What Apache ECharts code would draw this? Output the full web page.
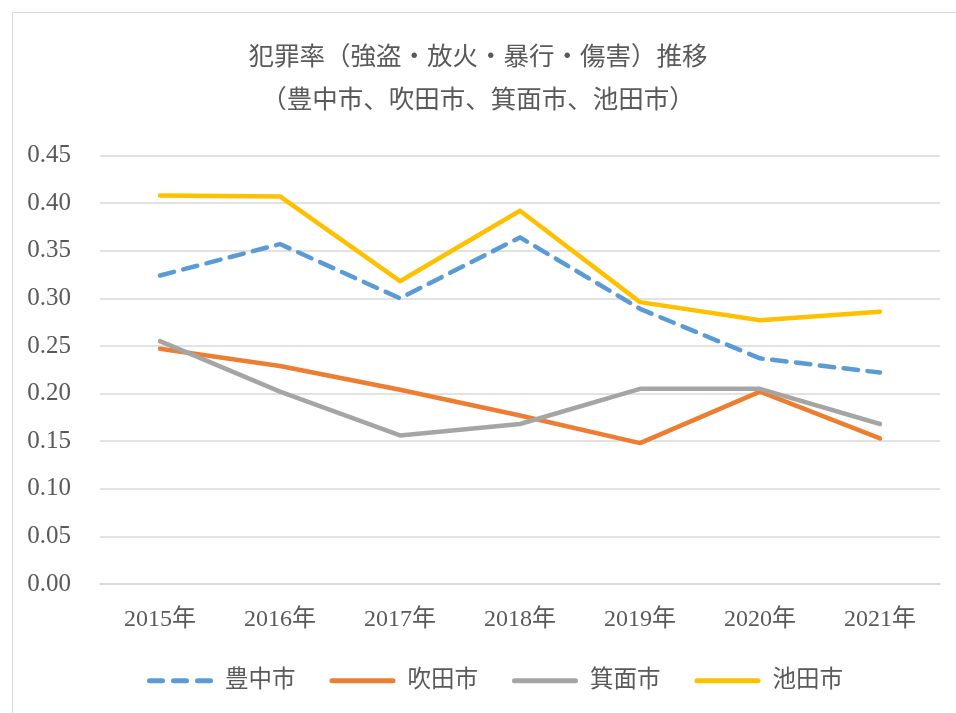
<!DOCTYPE html>
<html><head><meta charset="utf-8">
<script src="https://cdn.jsdelivr.net/npm/echarts@6/dist/echarts.min.js"></script>
<style>html,body{margin:0;padding:0;background:#fff}#c{width:956px;height:713px}</style>
</head><body><div id="c"></div>
<script>
const categories = ['2015年','2016年','2017年','2018年','2019年','2020年','2021年'];
const toyonaka = [0.324, 0.357, 0.300, 0.364, 0.289, 0.237, 0.222];
const suita    = [0.247, 0.229, 0.204, 0.177, 0.148, 0.202, 0.153];
const minoh    = [0.255, 0.202, 0.156, 0.168, 0.205, 0.205, 0.168];
const ikeda    = [0.408, 0.407, 0.318, 0.392, 0.296, 0.277, 0.286];
const seriesNames = ['豊中市','吹田市','箕面市','池田市'];
const titleLines = ['犯罪率（強盗・放火・暴行・傷害）推移','（豊中市、吹田市、箕面市、池田市）'];

const FONT = "'Liberation Serif','Noto Sans CJK JP',serif";
const TXT = '#595959';
const chart = echarts.init(document.getElementById('c'));
const mk = (name, data, color, dashed) => ({
  name, type: 'line', data, symbol: 'none',
  lineStyle: { color, width: 4.5, type: dashed ? [14.5, 9.5] : 'solid', cap: 'round', join: 'round' },
  itemStyle: { color }
});
const dashIcon = 'path://M2.5,0h13a2.5,2.5 0 0 1 0,5h-13a2.5,2.5 0 0 1 0,-5z M26.5,0h13a2.5,2.5 0 0 1 0,5h-13a2.5,2.5 0 0 1 0,-5z M50.5,0h13a2.5,2.5 0 0 1 0,5h-13a2.5,2.5 0 0 1 0,-5z';
const solidIcon = 'path://M2.5,0h61a2.5,2.5 0 0 1 0,5h-61a2.5,2.5 0 0 1 0,-5z';
chart.setOption({
  backgroundColor: '#fff',
  animation: false,
  graphic: [{ type: 'rect', shape: { x: 12.5, y: 12.5, width: 950, height: 710 },
    style: { fill: 'none', stroke: '#d9d9d9', lineWidth: 1 } }],
  title: [
    { text: titleLines[0], left: 'center', top: 41, textStyle: { fontFamily: FONT, fontSize: 25.5, fontWeight: 'normal', color: TXT } },
    { text: titleLines[1], left: 'center', top: 84, textStyle: { fontFamily: FONT, fontSize: 25.5, fontWeight: 'normal', color: TXT } }
  ],
  legend: {
    data: [
      { name: seriesNames[0], icon: dashIcon },
      { name: seriesNames[1], icon: solidIcon },
      { name: seriesNames[2], icon: solidIcon },
      { name: seriesNames[3], icon: solidIcon }
    ],
    top: 669, left: 147, padding: 0, itemWidth: 66, itemHeight: 5, itemGap: 34,
    textStyle: { fontFamily: FONT, fontSize: 23.5, color: TXT, padding: [0, 0, 0, 7] }
  },
  grid: { left: 100, right: 16, top: 155.5, bottom: 129, containLabel: false },
  xAxis: {
    type: 'category', data: categories, boundaryGap: true,
    axisLine: { lineStyle: { color: '#d9d9d9', width: 1.5 } }, axisTick: { show: false },
    axisLabel: { fontFamily: FONT, fontSize: 24, color: TXT, margin: 24 }
  },
  yAxis: {
    type: 'value', min: 0, max: 0.45, interval: 0.05,
    axisLine: { show: false }, axisTick: { show: false },
    splitLine: { lineStyle: { color: '#d9d9d9', width: 1.5 } },
    axisLabel: { fontFamily: FONT, fontSize: 25, color: TXT, margin: 29, formatter: v => v.toFixed(2) }
  },
  series: [
    mk(seriesNames[0], toyonaka, '#5b9bd5', true),
    mk(seriesNames[1], suita, '#ed7d31', false),
    mk(seriesNames[2], minoh, '#a5a5a5', false),
    mk(seriesNames[3], ikeda, '#ffc000', false)
  ]
});
</script></body></html>
